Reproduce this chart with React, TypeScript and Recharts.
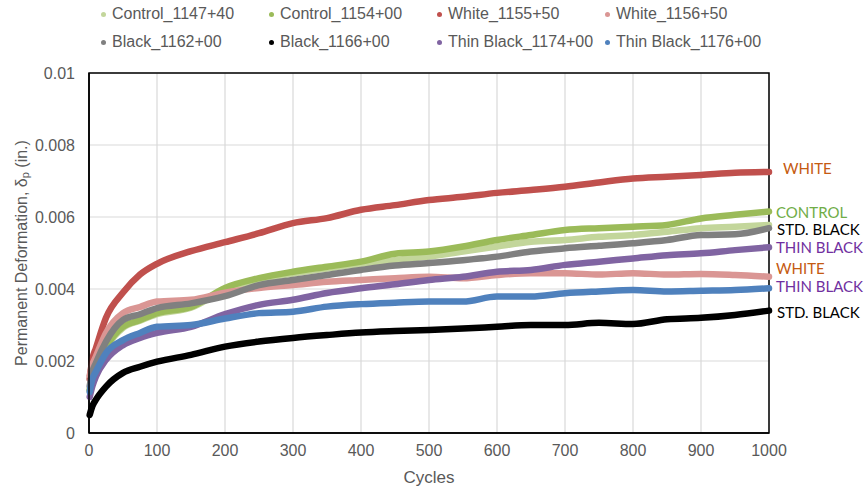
import React from "react";
import {
  LineChart,
  Line,
  XAxis,
  YAxis,
  CartesianGrid,
  ReferenceArea,
  LabelList,
  Label,
} from "recharts";

const cycles = [1, 5, 10, 25, 50, 75, 100, 150, 200, 250, 300, 350, 400, 450, 500, 550, 600, 650, 700, 750, 800, 850, 900, 950, 1000];

const control114740 = [0.00118, 0.00158, 0.00188, 0.00238, 0.00292, 0.00312, 0.0033, 0.00348, 0.00398, 0.00425, 0.00443, 0.00457, 0.0047, 0.0048, 0.0049, 0.00504, 0.00518, 0.00531, 0.00536, 0.00545, 0.0055, 0.00559, 0.00569, 0.00573, 0.00578];
const control115400 = [0.0012, 0.0016, 0.0019, 0.0024, 0.00295, 0.00314, 0.00333, 0.0035, 0.00403, 0.0043, 0.00448, 0.00462, 0.00476, 0.00498, 0.00504, 0.00518, 0.00536, 0.0055, 0.00564, 0.00569, 0.00573, 0.00578, 0.00596, 0.00606, 0.00615];
const white115550 = [0.0015, 0.00205, 0.00235, 0.0032, 0.0039, 0.0044, 0.0047, 0.00505, 0.0053, 0.00555, 0.00583, 0.00597, 0.0062, 0.00633, 0.00647, 0.00656, 0.00667, 0.00675, 0.00684, 0.00696, 0.00707, 0.00712, 0.00717, 0.00723, 0.00725];
const white115650 = [0.0016, 0.0019, 0.00212, 0.00278, 0.00333, 0.0035, 0.00365, 0.0037, 0.0039, 0.00403, 0.00411, 0.0042, 0.00425, 0.0043, 0.00434, 0.0043, 0.00439, 0.00444, 0.00444, 0.0044, 0.00444, 0.0044, 0.00442, 0.00439, 0.00434];
const black116200 = [0.0013, 0.0017, 0.00194, 0.00254, 0.00314, 0.0033, 0.00347, 0.0036, 0.0038, 0.00411, 0.00425, 0.00439, 0.00453, 0.00465, 0.00472, 0.0048, 0.0049, 0.00504, 0.00513, 0.0052, 0.00527, 0.00536, 0.0055, 0.00552, 0.00569];
const black116600 = [0.0005, 0.00075, 0.00092, 0.00129, 0.00167, 0.00184, 0.00198, 0.00217, 0.0024, 0.00254, 0.00264, 0.00272, 0.00279, 0.00283, 0.00286, 0.0029, 0.00295, 0.003, 0.003, 0.00306, 0.00303, 0.00316, 0.0032, 0.00328, 0.0034];
const thinBlack117400 = [0.001, 0.0013, 0.00156, 0.00203, 0.00244, 0.00264, 0.00278, 0.00295, 0.0033, 0.00356, 0.0037, 0.00389, 0.00402, 0.00413, 0.00425, 0.00434, 0.00448, 0.00453, 0.00467, 0.00476, 0.00485, 0.00494, 0.00499, 0.00508, 0.00516];
const thinBlack117600 = [0.00114, 0.0015, 0.0017, 0.00222, 0.00258, 0.00278, 0.00295, 0.003, 0.00318, 0.00333, 0.00337, 0.00351, 0.00358, 0.00362, 0.00365, 0.00365, 0.00379, 0.00379, 0.00388, 0.00393, 0.00397, 0.00393, 0.00395, 0.00397, 0.00402];

const xTicks = [0, 100, 200, 300, 400, 500, 600, 700, 800, 900, 1000];
const yTicks = [0, 0.002, 0.004, 0.006, 0.008, 0.01];
const yTickLabels = ["0", "0.002", "0.004", "0.006", "0.008", "0.01"];

type SeriesDef = {
  key: string;
  name: string;
  color: string;
  values: number[];
  tag?: string;
  tagColor?: string;
  tagDx?: number;
  tagDy?: number;
};

const series: SeriesDef[] = [
  { key: "c1", name: "Control_1147+40", color: "#C3D69B", values: control114740 },
  { key: "c2", name: "Control_1154+00", color: "#9BBB59", values: control115400, tag: "CONTROL", tagColor: "#70AD47", tagDx: 7, tagDy: 0 },
  { key: "w1", name: "White_1155+50", color: "#C0504D", values: white115550, tag: "WHITE", tagColor: "#C55A11", tagDx: 14, tagDy: -4 },
  { key: "w2", name: "White_1156+50", color: "#DA9694", values: white115650, tag: "WHITE", tagColor: "#C55A11", tagDx: 7, tagDy: -9 },
  { key: "b1", name: "Black_1162+00", color: "#808080", values: black116200, tag: "STD. BLACK", tagColor: "#000000", tagDx: 8, tagDy: 1 },
  { key: "b2", name: "Black_1166+00", color: "#000000", values: black116600, tag: "STD. BLACK", tagColor: "#000000", tagDx: 8, tagDy: 1 },
  { key: "t1", name: "Thin Black_1174+00", color: "#8064A2", values: thinBlack117400, tag: "THIN BLACK", tagColor: "#7030A0", tagDx: 7, tagDy: 0 },
  { key: "t2", name: "Thin Black_1176+00", color: "#4F81BD", values: thinBlack117600, tag: "THIN BLACK", tagColor: "#7030A0", tagDx: 7, tagDy: -2 },
];

const data = cycles.map((c, i) => {
  const row: Record<string, number> = { cycle: c };
  series.forEach((s) => {
    row[s.key] = s.values[i];
  });
  return row;
});

const lastIndex = cycles.length - 1;
const FONT = "'Liberation Sans', Arial, sans-serif";
const TEXT_GRAY = "#595959";

function makeTag(s: SeriesDef) {
  return (p: any) => {
    if (p.index !== lastIndex || !s.tag) return null;
    return (
      <text
        x={Number(p.x) + (s.tagDx || 0)}
        y={Number(p.y) + (s.tagDy || 0)}
        dominantBaseline="central"
        fill={s.tagColor}
        fontFamily="Lato, 'Open Sans', sans-serif"
        fontSize={15}
      >
        {s.tag}
      </text>
    );
  };
}

const legendRows = [series.slice(0, 4), series.slice(4, 8)];
const legendCols = [104, 272, 440, 608];
const legendRowY = [14, 42];

export default function App() {
  return (
    <div style={{ position: "absolute", left: 0, top: 0, width: 865, height: 491, background: "#fff", fontFamily: FONT }}>
      <LineChart
        width={865}
        height={491}
        data={data}
        margin={{ top: 73, right: 96, bottom: 18, left: 0 }}
      >
        <CartesianGrid stroke="#D9D9D9" strokeWidth={1.2} />
        <XAxis
          dataKey="cycle"
          type="number"
          domain={[0, 1000]}
          ticks={xTicks}
          interval={0}
          tickLine={false}
          axisLine={{ stroke: "#000", strokeWidth: 1.5 }}
          height={40}
          tick={{ fill: TEXT_GRAY, fontSize: 16, fontFamily: FONT }}
          tickMargin={6}
        >
          <Label
            value="Cycles"
            position="insideBottom"
            offset={-10}
            fill={TEXT_GRAY}
            fontSize={17}
            fontFamily={FONT}
          />
        </XAxis>
        <YAxis
          type="number"
          domain={[0, 0.01]}
          ticks={yTicks}
          interval={0}
          width={89}
          tickLine={false}
          axisLine={{ stroke: "#000", strokeWidth: 1.5 }}
          tick={{ fill: TEXT_GRAY, fontSize: 16, fontFamily: FONT }}
          tickFormatter={(v: number) => yTickLabels[yTicks.indexOf(v)] ?? String(v)}
          tickMargin={8}
          label={({ viewBox }: any) => {
            const cy = viewBox.y + viewBox.height / 2;
            return (
              <text
                transform={`translate(21, ${cy}) rotate(-90)`}
                textAnchor="middle"
                dominantBaseline="central"
                fill={TEXT_GRAY}
                fontSize={16}
                fontFamily={FONT}
              >
                Permanent Deformation, δ
                <tspan fontSize={11} dy={4}>p</tspan>
                <tspan dy={-4}> (in.)</tspan>
              </text>
            );
          }}
        />
        <ReferenceArea x1={0} x2={1000} y1={0} y2={0.01} fill="none" stroke="#000" strokeWidth={1.5} ifOverflow="visible" />
        {series.map((s) => (
          <Line
            key={s.key}
            dataKey={s.key}
            name={s.name}
            type="monotone"
            stroke={s.color}
            strokeWidth={6.5}
            strokeLinecap="round"
            strokeLinejoin="round"
            dot={false}
            activeDot={false}
            isAnimationActive={false}
          >
            {s.tag ? <LabelList dataKey={s.key} content={makeTag(s)} /> : null}
          </Line>
        ))}
      </LineChart>
      {legendRows.map((row, ri) =>
        row.map((s, ci) => (
          <div
            key={s.key}
            style={{
              position: "absolute",
              left: legendCols[ci] - 3,
              top: legendRowY[ri] - 10,
              height: 20,
              display: "flex",
              alignItems: "center",
              whiteSpace: "nowrap",
              fontSize: 16,
              color: TEXT_GRAY,
              fontFamily: FONT,
            }}
          >
            <span style={{ display: "inline-block", width: 5, height: 5, borderRadius: 3, background: s.color, marginRight: 6 }} />
            {s.name}
          </div>
        ))
      )}
    </div>
  );
}
